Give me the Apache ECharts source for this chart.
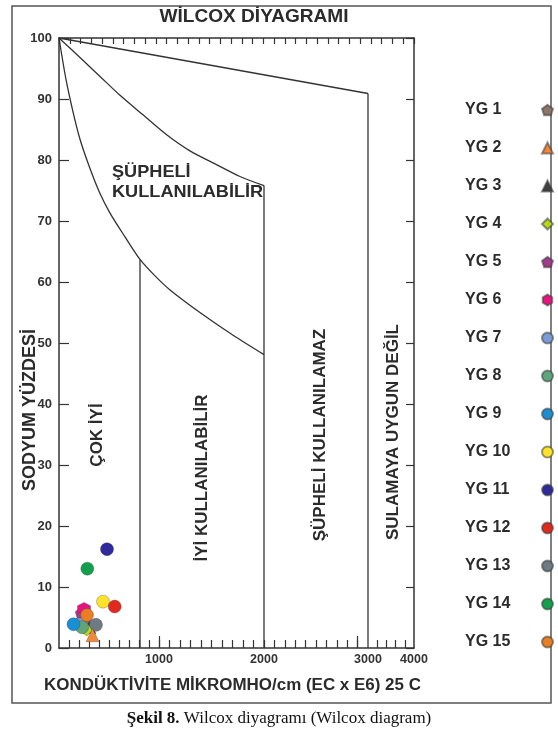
<!DOCTYPE html>
<html><head><meta charset="utf-8">
<script src="https://cdn.jsdelivr.net/npm/echarts@6/dist/echarts.min.js"></script>
<style>html,body{margin:0;padding:0;background:#fff}#c{width:558px;height:735px}</style>
</head><body><div id="c"></div>
<script>
// ---- data ----
const sampleNames = ['YG 1','YG 2','YG 3','YG 4','YG 5','YG 6','YG 7','YG 8','YG 9','YG 10','YG 11','YG 12','YG 13','YG 14','YG 15'];
const sampleEC    = [260, 335, 305, 277, 227, 250, 205, 230, 145, 440, 480, 557, 370, 283, 280];
const sampleNa    = [4.5, 2.1, 3.4, 3.0, 5.7, 6.4, 3.9, 3.4, 3.9, 7.6, 16.2, 6.8, 3.8, 13.0, 5.4];
const sampleSymbols = ['pentagon','triangle','triangle','diamond','pentagon','hexagon','circle','circle','circle','circle','circle','circle','circle','circle','circle'];
const sampleColors = ['#8c7468','#f0893a','#3f3f3f','#b5d81a','#a23b8c','#e3167f','#7b9bd6','#5fa57c','#1b8fd4','#ffe32a','#2e2a9c','#e02a1f','#6e7a84','#12a04e','#e97e24'];
// class boundaries [EC, Na%]
const topLine     = [[0,100],[3000,90.9]];
const upperCurve  = [[0,100],[210,96.8],[410,93.7],[610,90.6],[840,87.4],[1076,84.1],[1295,81.5],[1552,79.2],[1771,77.3],[2000,75.8]];
const lowerCurve  = [[0,100],[70,93.2],[140,87.9],[210,83.4],[310,78.6],[410,74.5],[510,71.3],[660,67.4],[810,63.7],[960,61.0],[1105,58.7],[1390,55.0],[1695,51.4],[2000,48.1]];
const line810     = [[810,63.7],[810,0]];
const line2000    = [[2000,75.8],[2000,0]];
const line3000    = [[3000,90.9],[3000,0]];
// axis ticks
const xLabelValues = [1000,2000,3000,4000];
// ---- non-linear EC scale of the diagram (knots) ----
const knotsEC  = [0,1000,2000,3000,4000];
const knotsPos = [0,100,205,309,355];
function toPos(ec){
  for(let i=1;i<knotsEC.length;i++){
    if(ec<=knotsEC[i]){
      const t=(ec-knotsEC[i-1])/(knotsEC[i]-knotsEC[i-1]);
      return knotsPos[i-1]+t*(knotsPos[i]-knotsPos[i-1]);
    }
  }
  return knotsPos[knotsPos.length-1];
}
const minorTicksEC = [];
for(let v=100; v<3000; v+=100) minorTicksEC.push(v);
for(let v=3200; v<4000; v+=200) minorTicksEC.push(v);
const tallTicksEC = [1000,2900];

const PENT='path://M0,-10 L9.51,-3.09 L5.88,8.09 L-5.88,8.09 L-9.51,-3.09 Z';
const HEX='path://M0,-10 L8.66,-5 L8.66,5 L0,10 L-8.66,5 L-8.66,-5 Z';
function sym(s){return s==='pentagon'?PENT:(s==='hexagon'?HEX:s);}
const conv = arr => arr.map(p=>[toPos(p[0]),p[1]]);

const dark='#333';
const series=[];
[topLine,upperCurve,lowerCurve,line810,line2000,line3000].forEach((d,i)=>{
  series.push({type:'line',data:conv(d),symbol:'none',silent:true,
    smooth:(i===1||i===2)?0.3:false,
    lineStyle:{color:dark,width:1.3},z:1});
});
sampleNames.forEach((n,i)=>{
  series.push({type:'scatter',name:n,data:[[toPos(sampleEC[i]),sampleNa[i]]],
    symbol:sym(sampleSymbols[i]),symbolSize:13,
    itemStyle:{color:sampleColors[i],borderColor:'rgba(60,60,60,0.55)',borderWidth:0.6,opacity:1},
    z:(i===1?4:3)});
});

const FF='"Liberation Sans", Arial, sans-serif';
const chart=echarts.init(document.getElementById('c'),null,{renderer:'canvas'});
chart.setOption({
  animation:false,
  backgroundColor:'#fff',
  grid:{left:59,right:144,top:38,bottom:87},
  xAxis:[
    {type:'value',position:'bottom',min:0,max:355,
     axisLine:{show:true,onZero:false,lineStyle:{color:dark,width:1.5}},
     axisTick:{show:true,inside:true,length:8,customValues:minorTicksEC.map(toPos),lineStyle:{color:dark,width:1.2}},
     axisLabel:{show:true,customValues:xLabelValues.map(toPos),margin:5,fontSize:12.5,fontWeight:'bold',fontFamily:FF,color:'#333',
       formatter:function(v){let best=0,bd=1e9;xLabelValues.forEach((e,i)=>{const d=Math.abs(toPos(e)-v);if(d<bd){bd=d;best=i;}});return String(xLabelValues[best]);}},
     splitLine:{show:false}},
    {type:'value',position:'bottom',min:0,max:355,
     axisLine:{show:false,onZero:false},
     axisTick:{show:true,inside:true,length:12,customValues:tallTicksEC.map(toPos),lineStyle:{color:dark,width:1.2}},
     axisLabel:{show:false},splitLine:{show:false}},
    {type:'value',position:'top',min:0,max:33,interval:1,
     axisLine:{show:true,onZero:false,lineStyle:{color:dark,width:1.5}},
     axisTick:{show:true,inside:true,length:6,lineStyle:{color:dark,width:1.2}},
     axisLabel:{show:false},splitLine:{show:false}}
  ],
  yAxis:[
    {type:'value',position:'left',min:0,max:100,interval:10,
     axisLine:{show:true,onZero:false,lineStyle:{color:dark,width:1.5}},
     axisTick:{show:true,inside:true,length:10,lineStyle:{color:dark,width:1.2}},
     axisLabel:{show:true,margin:7,fontSize:13,fontWeight:'bold',fontFamily:FF,color:'#333'},
     splitLine:{show:false}},
    {type:'value',position:'right',min:0,max:100,interval:10,
     axisLine:{show:true,onZero:false,lineStyle:{color:dark,width:1.5}},
     axisTick:{show:true,inside:true,length:8,lineStyle:{color:dark,width:1.2}},
     axisLabel:{show:false},splitLine:{show:false}}
  ],
  legend:{orient:'vertical',left:465,top:102,padding:0,align:'right',
    itemWidth:11,itemHeight:11,itemGap:22,
    data:sampleNames,
    formatter:n=>'{a|'+n+'}',
    textStyle:{rich:{a:{width:72,height:16,align:'left',fontSize:16,lineHeight:16,fontWeight:'bold',fontFamily:FF,color:'#2b2b2b'}}}},
  graphic:[
    {type:'rect',shape:{x:12,y:6,width:539,height:697},style:{fill:'none',stroke:'#555',lineWidth:1.5},z:-1,silent:true},
    {type:'text',x:254,y:17,scaleX:1.06,style:{text:'WİLCOX DİYAGRAMI',align:'center',verticalAlign:'middle',font:'bold 18px '+FF,fill:'#2b2b2b'}},
    {type:'text',x:112,y:182,scaleX:1.1,style:{text:'ŞÜPHELİ\nKULLANILABİLİR',align:'left',verticalAlign:'middle',lineHeight:20,font:'bold 16.5px '+FF,fill:'#2b2b2b'}},
    {type:'text',x:97,y:435,rotation:Math.PI/2,style:{text:'ÇOK İYİ',align:'center',verticalAlign:'middle',font:'bold 17px '+FF,fill:'#2b2b2b'}},
    {type:'text',x:202,y:478,rotation:Math.PI/2,style:{text:'İYİ KULLANILABİLİR',align:'center',verticalAlign:'middle',font:'bold 17px '+FF,fill:'#2b2b2b'}},
    {type:'text',x:320,y:435,rotation:Math.PI/2,style:{text:'ŞÜPHELİ KULLANILAMAZ',align:'center',verticalAlign:'middle',font:'bold 17px '+FF,fill:'#2b2b2b'}},
    {type:'text',x:393,y:432,rotation:Math.PI/2,style:{text:'SULAMAYA UYGUN DEĞİL',align:'center',verticalAlign:'middle',font:'bold 17px '+FF,fill:'#2b2b2b'}},
    {type:'text',x:30,y:410,rotation:Math.PI/2,style:{text:'SODYUM YÜZDESİ',align:'center',verticalAlign:'middle',font:'bold 18px '+FF,fill:'#2b2b2b'}},
    {type:'text',x:44,y:686,scaleX:1.06,style:{text:'KONDÜKTİVİTE MİKROMHO/cm (EC x E6) 25 C',align:'left',verticalAlign:'middle',font:'bold 16px '+FF,fill:'#2b2b2b'}},
    {type:'text',x:279,y:719,style:{text:'{b|Şekil 8.} Wilcox diyagramı (Wilcox diagram)',align:'center',verticalAlign:'middle',font:'17px "Liberation Serif", serif',fill:'#111',
      rich:{b:{font:'bold 17px "Liberation Serif", serif',fill:'#111'}}}}
  ],
  series:series
});
</script></body></html>
